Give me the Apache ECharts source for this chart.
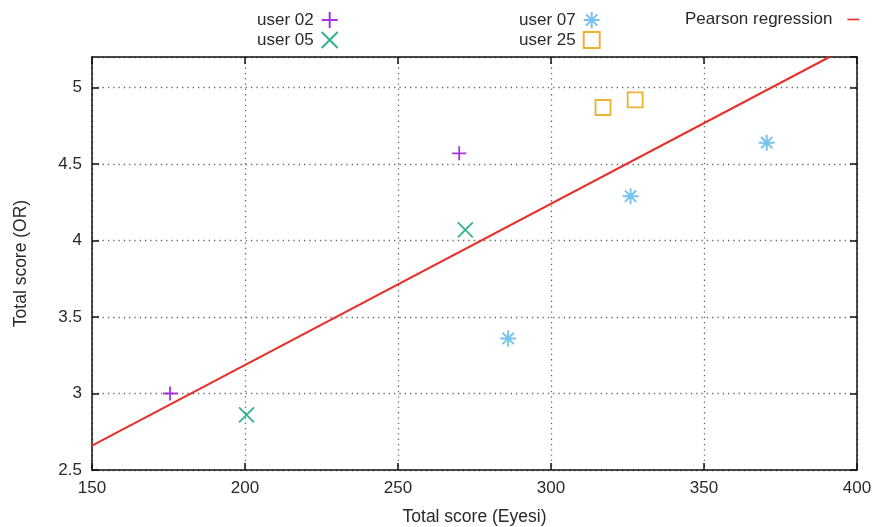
<!DOCTYPE html>
<html>
<head>
<meta charset="utf-8">
<script src="https://cdn.jsdelivr.net/npm/echarts@6/dist/echarts.min.js"></script>
<style>html,body{margin:0;padding:0;background:#fff;}#c{width:884px;height:527px;}</style>
</head>
<body>
<div id="c"></div>
<script>
const user02 = [[175.5, 3.00], [270, 4.57]];
const user05 = [[200.5, 2.86], [272, 4.07]];
const user07 = [[286, 3.36], [326, 4.29], [370.5, 4.64]];
const user25 = [[317, 4.87], [327.5, 4.92]];
const regression = [[150, 2.66], [391, 5.2]];
const xTicks = [150, 200, 250, 300, 350, 400];
const yTicks = [2.5, 3, 3.5, 4, 4.5, 5];

const FONT = 'Liberation Sans, Arial, sans-serif';
const TXT = '#2a2a2a';
const plusPath = 'path://M0,-1L0,1M-1,0L1,0';
const crossPath = 'path://M-1,-1L1,1M-1,1L1,-1';
const starPath = 'path://M0,-1L0,1M-1,0L1,0M-0.7071,-0.7071L0.7071,0.7071M-0.7071,0.7071L0.7071,-0.7071';

const chart = echarts.init(document.getElementById('c'), null, {renderer: 'canvas'});
const legendText = {fontFamily: FONT, fontSize: 17, color: TXT, padding: [0, 3, 0, 0]};
function mkScatter(name, data, symbol, color, size, bw) {
  return {
    name, type: 'scatter', data, symbol, symbolSize: size,
    itemStyle: {color: 'transparent', borderColor: color, borderWidth: bw},
    emphasis: {disabled: true}, z: 3
  };
}
chart.setOption({
  animation: false,
  backgroundColor: '#fff',
  grid: {left: 92, right: 27, top: 57, bottom: 57, show: false, containLabel: false, outerBoundsMode: 'none'},
  legend: [
    {orient: 'vertical', left: 252, top: 6, align: 'right', itemGap: 2, itemWidth: 16, itemHeight: 16,
     textStyle: legendText, data: ['user 02', 'user 05'], selectedMode: false},
    {orient: 'vertical', left: 514, top: 6, align: 'right', itemGap: 2, itemWidth: 16, itemHeight: 16,
     textStyle: legendText, data: ['user 07', 'user 25'], selectedMode: false},
    {orient: 'vertical', left: 680, top: 6, align: 'right', itemGap: 2, itemWidth: 12, itemHeight: 16,
     textStyle: Object.assign({}, legendText, {padding: [0, 10, 0, 0]}), selectedMode: false,
     data: [{name: 'Pearson regression', icon: 'path://M0,7H12V8.6H0Z', itemStyle: {color: '#e8302a'}}]}
  ],
  xAxis: [{
    type: 'value', min: 150, max: 400, interval: 50, position: 'bottom',
    name: 'Total score (Eyesi)', nameLocation: 'middle', nameGap: 38,
    nameTextStyle: {fontFamily: FONT, fontSize: 17.5, color: TXT},
    axisLine: {show: true, onZero: false, lineStyle: {color: '#111', width: 1.5}},
    axisTick: {show: true, inside: true, length: 7, lineStyle: {color: '#111', width: 1.5}},
    axisLabel: {fontFamily: FONT, fontSize: 17, color: TXT, margin: 10,
      formatter: v => xTicks.includes(v) ? String(v) : ''},
    splitLine: {show: true, lineStyle: {color: '#666', type: [1.3, 4], width: 1.3}}
  }, {
    type: 'value', min: 150, max: 400, interval: 50, position: 'top',
    axisLine: {show: true, onZero: false, lineStyle: {color: '#111', width: 1.5}},
    axisTick: {show: true, inside: true, length: 7, lineStyle: {color: '#111', width: 1.5}},
    axisLabel: {show: false}, splitLine: {show: false}
  }],
  yAxis: [{
    type: 'value', min: 2.5, max: 5.2, interval: 0.5, position: 'left',
    name: 'Total score (OR)', nameLocation: 'middle', nameGap: 62, nameRotate: 90,
    nameTextStyle: {fontFamily: FONT, fontSize: 17.5, color: TXT},
    axisLine: {show: true, onZero: false, lineStyle: {color: '#111', width: 1.5}},
    axisTick: {show: true, inside: true, length: 7, lineStyle: {color: '#111', width: 1.5}},
    axisLabel: {fontFamily: FONT, fontSize: 17, color: TXT, margin: 10, showMaxLabel: false,
      formatter: v => yTicks.some(t => Math.abs(t - v) < 1e-9) ? String(v) : ''},
    splitLine: {show: true, lineStyle: {color: '#666', type: [1.3, 4], width: 1.3}}
  }, {
    type: 'value', min: 2.5, max: 5.2, interval: 0.5, position: 'right',
    axisLine: {show: true, onZero: false, lineStyle: {color: '#111', width: 1.5}},
    axisTick: {show: true, inside: true, length: 7, lineStyle: {color: '#111', width: 1.5}},
    axisLabel: {show: false}, splitLine: {show: false}
  }],
  series: [
    mkScatter('user 02', user02, plusPath, '#9400d3', 14, 1.8),
    mkScatter('user 05', user05, crossPath, '#009e73', 15, 1.8),
    mkScatter('user 07', user07, starPath, '#56b4e9', 16, 2),
    mkScatter('user 25', user25, 'rect', '#e69f00', 15, 1.8),
    {name: 'Pearson regression', type: 'line', data: regression, showSymbol: false, symbol: 'none',
     lineStyle: {color: '#e8302a', width: 2}, itemStyle: {color: '#e8302a'}, z: 2,
     emphasis: {disabled: true}}
  ]
});
</script>
</body>
</html>
